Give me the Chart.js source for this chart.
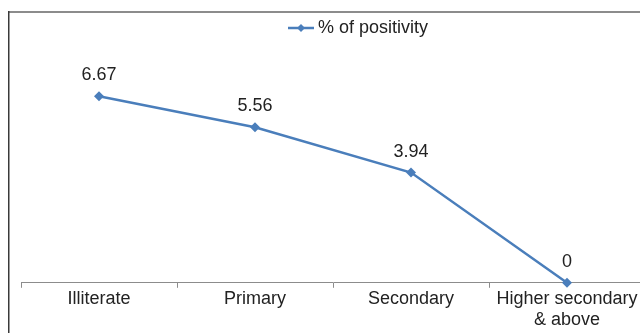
<!DOCTYPE html>
<html>
<head>
<meta charset="utf-8">
<script src="https://cdn.jsdelivr.net/npm/chart.js@4/dist/chart.umd.min.js"></script>
<style>
  html, body { margin: 0; padding: 0; background: #fff; overflow: hidden; width: 640px; height: 333px; }
  canvas { display: block; }
</style>
</head>
<body>
<canvas id="chart" width="650" height="333"></canvas>
<script>
// Education level categories and test positivity (%)
const categories = ['Illiterate', 'Primary', 'Secondary', ['Higher secondary', '& above']];
const positivity = [6.67, 5.56, 3.94, 0];
const seriesLabel = '% of positivity';

const LINE_BLUE = '#4a7ebb';
const TEXT_COLOR = '#222222';
const FONT = '"Liberation Sans", Arial, sans-serif';

// Thin frame on the left and top edges
const framePlugin = {
  id: 'frame',
  beforeDraw(chart) {
    const ctx = chart.ctx;
    ctx.save();
    ctx.fillStyle = '#fff';
    ctx.fillRect(0, 0, chart.width, chart.height);
    ctx.strokeStyle = '#8c8c8c';
    ctx.lineWidth = 2;
    ctx.beginPath();
    ctx.moveTo(8, 12);
    ctx.lineTo(chart.width, 12);
    ctx.stroke();
    ctx.strokeStyle = '#3a3a3a';
    ctx.lineWidth = 1.5;
    ctx.beginPath();
    ctx.moveTo(8.75, 11);
    ctx.lineTo(8.75, chart.height);
    ctx.stroke();
    ctx.restore();
  }
};

// Line-and-diamond legend entry centred above the plot
const legendPlugin = {
  id: 'lineLegend',
  afterDraw(chart) {
    const ctx = chart.ctx;
    const ds = chart.data.datasets[0];
    ctx.save();
    ctx.font = '18px ' + FONT;
    const textW = ctx.measureText(ds.label).width;
    const lineW = 26, gap = 4;
    const total = lineW + gap + textW;
    const x0 = 358 - total / 2;
    const y = 28;
    ctx.strokeStyle = ds.borderColor;
    ctx.lineWidth = 2.5;
    ctx.beginPath();
    ctx.moveTo(x0, y);
    ctx.lineTo(x0 + lineW, y);
    ctx.stroke();
    const cx = x0 + lineW / 2, r = 4;
    ctx.fillStyle = ds.borderColor;
    ctx.beginPath();
    ctx.moveTo(cx, y - r);
    ctx.lineTo(cx + r, y);
    ctx.lineTo(cx, y + r);
    ctx.lineTo(cx - r, y);
    ctx.closePath();
    ctx.fill();
    ctx.fillStyle = TEXT_COLOR;
    ctx.textBaseline = 'middle';
    ctx.textAlign = 'left';
    ctx.fillText(ds.label, x0 + lineW + gap, y);
    ctx.restore();
  }
};

// Value labels above each point
const valueLabelPlugin = {
  id: 'valueLabels',
  afterDatasetsDraw(chart) {
    const ctx = chart.ctx;
    const meta = chart.getDatasetMeta(0);
    const values = chart.data.datasets[0].data;
    ctx.save();
    ctx.font = '18px ' + FONT;
    ctx.fillStyle = TEXT_COLOR;
    ctx.textAlign = 'center';
    ctx.textBaseline = 'middle';
    meta.data.forEach((pt, i) => {
      ctx.fillText(String(values[i]), pt.x, pt.y - 21);
    });
    ctx.restore();
  }
};

new Chart(document.getElementById('chart'), {
  type: 'line',
  data: {
    labels: categories,
    datasets: [{
      label: seriesLabel,
      data: positivity,
      borderColor: LINE_BLUE,
      backgroundColor: LINE_BLUE,
      borderWidth: 2.5,
      pointStyle: 'rectRot',
      pointRadius: 5,
      pointHoverRadius: 5,
      pointBorderWidth: 0,
      tension: 0,
      clip: false
    }]
  },
  options: {
    responsive: false,
    animation: false,
    devicePixelRatio: 1,
    layout: { padding: { left: 21, right: 0, top: 59, bottom: 2 } },
    plugins: {
      legend: { display: false },
      tooltip: { enabled: false }
    },
    scales: {
      x: {
        offset: true,
        grid: {
          offset: true,
          drawOnChartArea: false,
          drawTicks: true,
          tickLength: 5,
          color: '#8c8c8c'
        },
        border: { display: true, color: '#8c8c8c', width: 1 },
        ticks: {
          color: TEXT_COLOR,
          font: { family: FONT, size: 18 },
          padding: 0,
          maxRotation: 0,
          autoSkip: false
        }
      },
      y: {
        display: false,
        min: 0,
        max: 8
      }
    }
  },
  plugins: [framePlugin, legendPlugin, valueLabelPlugin]
});
</script>
</body>
</html>
